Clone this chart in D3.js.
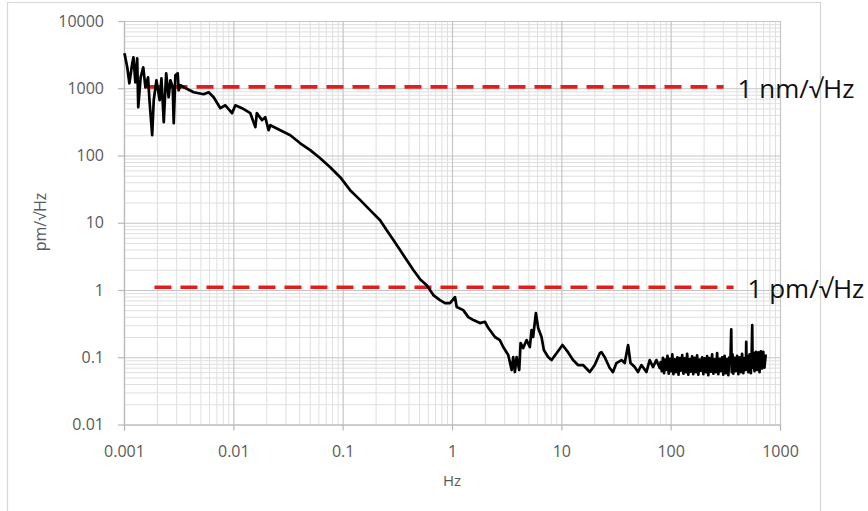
<!DOCTYPE html>
<html>
<head>
<meta charset="utf-8">
<script src="https://cdn.jsdelivr.net/npm/d3@7"></script>
<style>
  body { margin: 0; background: #fff; }
  .tick text { font-family: "Open Sans", sans-serif; }
</style>
</head>
<body>
<div id="chart-area"></div>
<script>
// noise spectrum
var freq = [
  0.00101, 0.00107, 0.00112, 0.00119, 0.00122, 0.00127, 0.00132, 0.00135, 0.00142, 0.00150,
  0.00157, 0.00166, 0.00171, 0.00181, 0.00187, 0.00198, 0.00212, 0.00220, 0.00231, 0.00243,
  0.00256, 0.00266, 0.00279, 0.00285, 0.00295, 0.00310, 0.00316, 0.00328,
  0.00352, 0.00434, 0.00535, 0.00595, 0.00661, 0.00761, 0.00845, 0.00973, 0.01043, 0.0120,
  0.0143, 0.0159, 0.0164, 0.0183, 0.0196, 0.0210, 0.0218, 0.0269, 0.0332, 0.0409,
  0.0505, 0.0623, 0.0769, 0.0949, 0.117, 0.145, 0.178, 0.220, 0.253, 0.291,
  0.335, 0.385, 0.443, 0.510, 0.587, 0.675, 0.776, 0.863, 0.959, 1.065,
  1.104, 1.268, 1.41, 1.57, 1.80, 2.00, 2.15, 2.47, 2.74, 2.94,
  3.27, 3.51, 3.63, 3.76, 3.90, 4.12, 4.24, 4.48, 4.81, 5.15,
  5.34, 5.52, 5.85, 6.14, 6.59, 6.92, 7.57, 8.14, 9.04, 10.25,
  11.5, 12.8, 14.2, 15.8, 18.2, 20.2, 22.5, 23.3, 24.9, 27.7,
  29.7, 31.9, 35.5, 38.0, 40.8, 42.9, 46.9, 50.3, 54.0, 60.0,
  64.3, 68.9, 74.0, 79.4,
  81, 83, 85, 87, 89, 91, 93.5, 96, 98.5, 101,
  103.5, 106, 109, 112, 115, 118, 121, 124, 127.5, 131,
  134.5, 138, 141.5, 145, 149, 153, 157, 161, 165.5, 170,
  174.5, 179, 184, 189, 194, 199, 204.5, 210, 215.5, 221,
  227, 233, 239.5, 246, 252.5, 259, 266, 273, 280.5, 288,
  295.5, 303, 311.5, 320, 328.5, 337, 344, 352, 358, 362,
  368, 374, 384, 394, 405, 416, 427, 438, 450, 462,
  474.5, 487, 491, 495, 504, 513, 527, 541, 550, 557,
  562, 570, 585, 600, 616, 633, 650, 667, 685, 703,
  721, 740
];

var psd = [
  3310, 2070, 1186, 2350, 2890, 1227, 2793, 522, 1455, 2050,
  1035, 1455, 664, 200, 664, 1315, 664, 1406, 313, 1671,
  735, 1315, 1035, 302, 1560, 1671, 933, 1109,
  1035, 873, 815, 873, 735, 505, 558, 426, 558, 505,
  426, 264, 426, 336, 371, 238, 282, 238, 200, 152,
  120, 91.2, 67.0, 47.6, 30.5, 21.7, 15.4, 10.9, 7.76, 5.52,
  3.92, 2.79, 1.98, 1.45, 1.18, 0.84, 0.708, 0.638, 0.638, 0.785,
  0.557, 0.502, 0.395, 0.357, 0.322, 0.337, 0.272, 0.200, 0.180, 0.142,
  0.108, 0.0646, 0.1007, 0.0603, 0.1007, 0.0646, 0.163, 0.137, 0.180, 0.142,
  0.254, 0.200, 0.454, 0.272, 0.200, 0.128, 0.1007, 0.0908, 0.115, 0.152,
  0.119, 0.0908, 0.0766, 0.0766, 0.0603, 0.0766, 0.115, 0.119, 0.1007, 0.0692,
  0.0603, 0.082, 0.0908, 0.082, 0.152, 0.082, 0.0715, 0.0603, 0.0766, 0.0603,
  0.0908, 0.0715, 0.0908, 0.0692,
  0.085, 0.062, 0.098, 0.058, 0.092, 0.065, 0.105, 0.057, 0.095, 0.062,
  0.11, 0.056, 0.093, 0.06, 0.10, 0.055, 0.097, 0.063, 0.108, 0.057,
  0.096, 0.06, 0.112, 0.055, 0.094, 0.061, 0.103, 0.056, 0.098, 0.06,
  0.107, 0.055, 0.092, 0.063, 0.10, 0.056, 0.096, 0.06, 0.104, 0.054,
  0.097, 0.061, 0.11, 0.057, 0.093, 0.06, 0.115, 0.056, 0.095, 0.062,
  0.10, 0.055, 0.105, 0.058, 0.094, 0.054, 0.10, 0.085, 0.26, 0.06,
  0.11, 0.057, 0.098, 0.062, 0.105, 0.056, 0.10, 0.06, 0.112, 0.058,
  0.097, 0.065, 0.17, 0.07, 0.105, 0.06, 0.11, 0.058, 0.10, 0.30,
  0.07, 0.115, 0.062, 0.12, 0.065, 0.118, 0.06, 0.122, 0.068, 0.12,
  0.07, 0.11
];

var xTicks = [0.001, 0.01, 0.1, 1, 10, 100, 1000];
var xTickLabels = ["0.001", "0.01", "0.1", "1", "10", "100", "1000"];
var yTicks = [0.01, 0.1, 1, 10, 100, 1000, 10000];
var yTickLabels = ["0.01", "0.1", "1", "10", "100", "1000", "10000"];

// red reference levels
var refLevels = [1050, 1.1];
var refStart = [0.00154, 0.0019];
var refEnd = [305, 376];
var refLabels = ["1 nm/\u221AHz", "1 pm/\u221AHz"];

var margin = { left: 124, top: 21 };
var width = 656;
var height = 403.5;

var svg = d3.select("#chart-area")
  .append("svg")
  .attr("width", 868)
  .attr("height", 511);

// chart frame
svg.append("path")
  .attr("d", "M7.5,520 V2.5 H820.5 V520")
  .attr("fill", "none")
  .attr("stroke", "#d6d6d6")
  .attr("stroke-width", 1.2);

var g = svg.append("g")
  .attr("transform", `translate(${margin.left}, ${margin.top})`);

var x = d3.scaleLog().domain([0.001, 1000]).range([0, width]);
var y = d3.scaleLog().domain([0.01, 10000]).range([height, 0]);

// minor gridline positions (2..9 in every decade)
function minors(decades) {
  var out = [];
  decades.slice(0, -1).forEach(d => {
    for (var k = 2; k < 10; k++) out.push(d * k);
  });
  return out;
}

g.append("g")
  .attr("class", "grid-minor-x")
  .attr("transform", `translate(0, ${height})`)
  .call(d3.axisBottom(x).tickValues(minors(xTicks)).tickSize(-height).tickFormat(""))
  .call(s => s.select(".domain").remove())
  .selectAll("line").attr("stroke", "#dfdfdf");

g.append("g")
  .attr("class", "grid-minor-y")
  .call(d3.axisLeft(y).tickValues(minors(yTicks)).tickSize(-width).tickFormat(""))
  .call(s => s.select(".domain").remove())
  .selectAll("line").attr("stroke", "#dfdfdf");

g.append("g")
  .attr("class", "grid-major-x")
  .attr("transform", `translate(0, ${height})`)
  .call(d3.axisBottom(x).tickValues(xTicks).tickSize(-height).tickFormat(""))
  .call(s => s.select(".domain").remove())
  .selectAll("line").attr("stroke", "#c6c6c6").attr("stroke-width", 1.2);

g.append("g")
  .attr("class", "grid-major-y")
  .call(d3.axisLeft(y).tickValues(yTicks).tickSize(-width).tickFormat(""))
  .call(s => s.select(".domain").remove())
  .selectAll("line").attr("stroke", "#c6c6c6").attr("stroke-width", 1.2);

// axes
var xAxis = g.append("g")
  .attr("class", "x-axis")
  .attr("transform", `translate(0, ${height})`)
  .call(d3.axisBottom(x).tickValues(xTicks).tickSize(6).tickPadding(15)
    .tickFormat((d, i) => xTickLabels[i]));

var yAxis = g.append("g")
  .attr("class", "y-axis")
  .call(d3.axisLeft(y).tickValues(yTicks).tickSize(6).tickPadding(14)
    .tickSizeOuter(0)
    .tickFormat((d, i) => yTickLabels[i]));

[xAxis, yAxis].forEach(a => {
  a.select(".domain").attr("stroke", "#b8b8b8").attr("stroke-width", 1.2);
  a.selectAll(".tick line").attr("stroke", "#b8b8b8").attr("stroke-width", 1.2);
  a.selectAll(".tick text")
    .attr("fill", "#5a5a5a")
    .attr("font-size", "16px");
});

// axis titles
g.append("text")
  .attr("x", x(1))
  .attr("y", height + 61)
  .attr("text-anchor", "middle")
  .attr("font-family", "Open Sans, sans-serif")
  .attr("font-size", "15px")
  .attr("fill", "#5a5a5a")
  .text("Hz");

g.append("text")
  .attr("transform", `translate(${40 - margin.left}, ${222 - margin.top}) rotate(-90)`)
  .attr("text-anchor", "middle")
  .attr("dy", "0.35em")
  .attr("font-family", "Open Sans, sans-serif")
  .attr("font-size", "16px")
  .attr("fill", "#5a5a5a")
  .text("pm/\u221AHz");

// reference lines
refLevels.forEach((lv, i) => {
  g.append("line")
    .attr("x1", x(refStart[i]))
    .attr("x2", x(refEnd[i]))
    .attr("y1", y(lv))
    .attr("y2", y(lv))
    .attr("stroke", "#e31c1c")
    .attr("stroke-width", 3.6)
    .attr("stroke-dasharray", "17 9");
});

// spectrum
var line = d3.line()
  .x((d, i) => x(freq[i]))
  .y(d => y(d));

g.append("path")
  .datum(psd)
  .attr("d", line)
  .attr("fill", "none")
  .attr("stroke", "#000")
  .attr("stroke-width", 2.7)
  .attr("stroke-linejoin", "round");

// level labels
refLevels.forEach((lv, i) => {
  g.append("text")
    .attr("x", x(refEnd[i]) + 14)
    .attr("y", y(lv) + 11)
    .attr("font-family", "Open Sans, sans-serif")
    .attr("font-size", "26px")
    .attr("fill", "#111")
    .text(refLabels[i]);
});
</script>
</body>
</html>
